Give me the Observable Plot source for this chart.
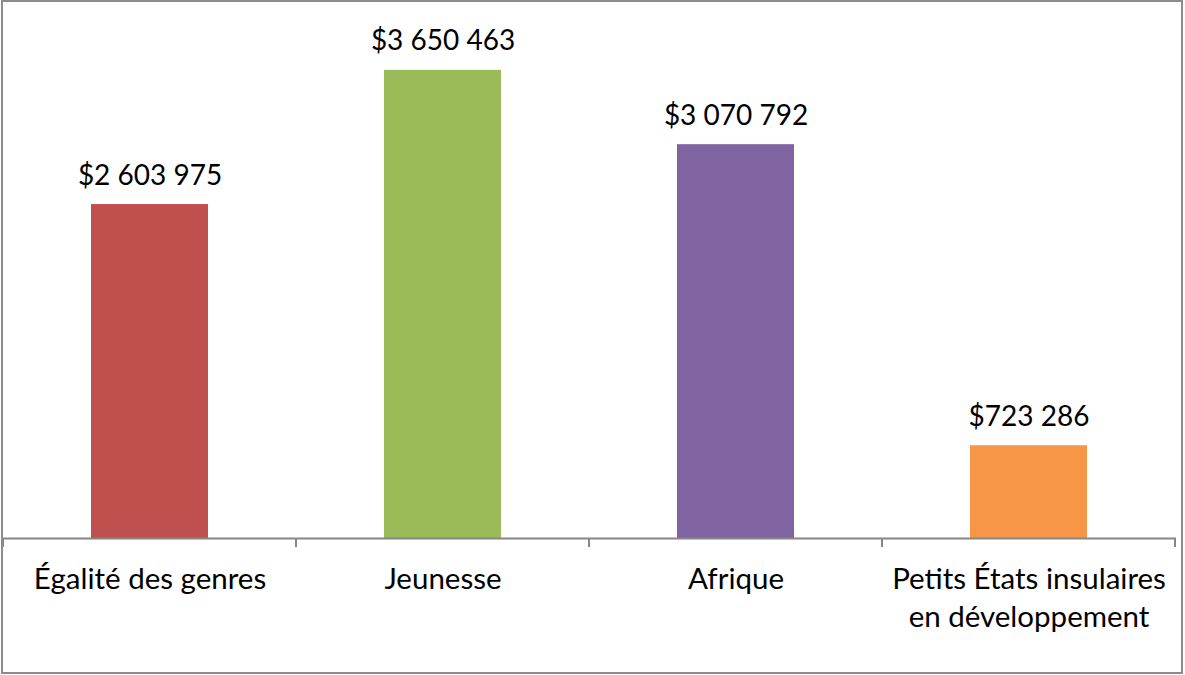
<!DOCTYPE html>
<html>
<head>
<meta charset="utf-8">
<script src="https://cdn.jsdelivr.net/npm/d3@7"></script>
<script src="https://cdn.jsdelivr.net/npm/@observablehq/plot@0.6"></script>
<style>
  html, body { margin: 0; padding: 0; background: #fff; }
  #wrap { position: relative; width: 1185px; height: 675px; overflow: hidden; }
  #wrap svg { position: absolute; left: 0; top: 0; }
  #border { position: absolute; left: 1px; top: 0px; width: 1182px; height: 674px; box-sizing: border-box; border: 2px solid #8c8c8c; pointer-events: none; }
</style>
</head>
<body>
<div id="wrap"><div id="border"></div></div>
<script>
const categories = ["Égalité des genres", "Jeunesse", "Afrique", "Petits États insulaires en développement"];
const axisLabels = ["Égalité des genres", "Jeunesse", "Afrique", "Petits États insulaires\nen développement"];
const values = [2603975, 3650463, 3070792, 723286];
const colors = ["#C0504D", "#9BBB59", "#8064A2", "#F79646"];

const data = categories.map((c, i) => ({category: c, value: values[i], label: axisLabels[i]}));
const fmt = v => "$" + d3.format(",")(v).replace(/,/g, "\u00a0");
const FONT = "Lato, 'Open Sans', sans-serif";

// category boundary ticks drawn from the band scale
const boundaryTicks = (index, scales, values, dims) => {
  const x = scales.x;
  const step = x.step(), bw = x.bandwidth();
  const y0 = scales.y(0);
  const g = d3.create("svg:g");
  const xs = categories.map(c => x(c) - (step - bw) / 2);
  xs.push(x(categories[categories.length - 1]) + bw + (step - bw) / 2);
  for (const xv of xs) {
    g.append("line").attr("x1", xv).attr("x2", xv).attr("y1", y0).attr("y2", y0 + 9)
      .attr("stroke", "#868686").attr("stroke-width", 2);
  }
  return g.node();
};

const plot = Plot.plot({
  width: 1185,
  height: 675,
  marginLeft: 3,
  marginRight: 9,
  marginTop: 25,
  marginBottom: 137,
  style: {fontFamily: FONT, background: "transparent"},
  x: {domain: categories, paddingInner: 0.6, paddingOuter: 0.3, label: null},
  y: {domain: [0, 4000000], axis: null},
  color: {domain: categories, range: colors},
  marks: [
    Plot.barY(data, {x: "category", y: "value", fill: "category"}),
    Plot.ruleY([0], {stroke: "#868686", strokeWidth: 2}),
    boundaryTicks,
    Plot.text(data, {x: "category", y: "value", text: d => fmt(d.value), lineAnchor: "bottom", dy: -20, fontSize: 28, fill: "#000"}),
    Plot.axisX({tickSize: 0, tickPadding: 23, fontSize: 29.5, lineHeight: 1.29, fill: "#000", tickFormat: (d, i) => axisLabels[categories.indexOf(d)]})
  ]
});
document.getElementById("wrap").prepend(plot);
</script>
</body>
</html>
